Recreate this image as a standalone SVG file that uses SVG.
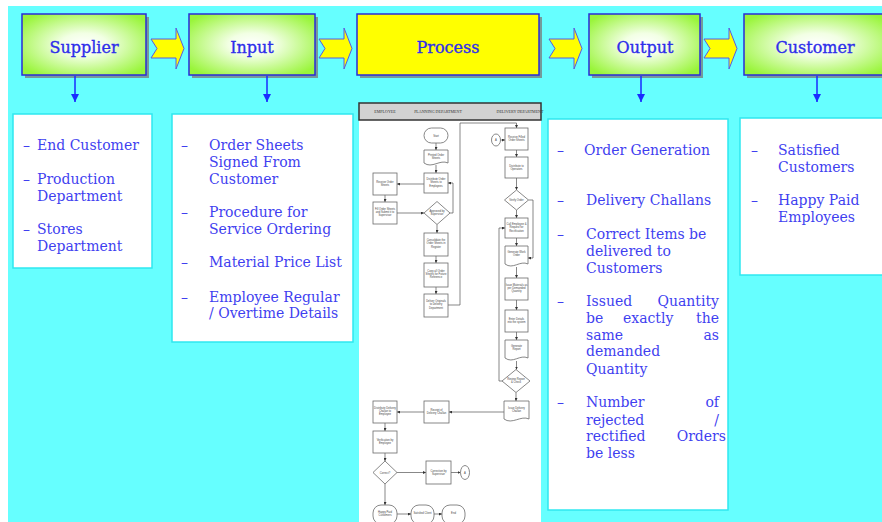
<svg xmlns="http://www.w3.org/2000/svg" width="882" height="522" viewBox="0 0 882 522">
<defs>
<radialGradient id="gg" cx="50%" cy="50%" r="62%">
<stop offset="0" stop-color="#FFFFFF"/>
<stop offset="0.3" stop-color="#F2FFE4"/>
<stop offset="1" stop-color="#99F53A"/>
</radialGradient>
<path id="chev" d="M0,39 H25 V28 L33,48.5 L25,69 V58 H0 L6,48.5 Z"/>
<marker id="dn" viewBox="0 0 10 10" refX="10" refY="5" markerWidth="8" markerHeight="8" markerUnits="userSpaceOnUse" orient="auto">
<path d="M0,0 L10,5 L0,10 Z" fill="#1A2BFF"/>
</marker>
<marker id="fa" viewBox="0 0 10 10" refX="10" refY="5" markerWidth="3" markerHeight="3" markerUnits="userSpaceOnUse" orient="auto">
<path d="M0,0 L10,5 L0,10 Z" fill="#333"/>
</marker>
<style>
.bx{stroke:#2B2BD9;stroke-width:1.5}
.sh{fill:#7a7a7a;opacity:0.75}
.ttl{font-family:"DejaVu Serif",serif;font-size:16px;fill:#2E2EEA;stroke:#2E2EEA;stroke-width:0.35;text-anchor:middle}
.lst{fill:#FFFFFF;stroke:#2FE8F0;stroke-width:1.5}
.li{font-family:"DejaVu Serif",serif;font-size:14px;fill:#3F3FF0}
.chv{fill:#FFFF00;stroke:#5A5AE0;stroke-width:1}
.dl{stroke:#1A2BFF;stroke-width:1.5;fill:none}
.fn{fill:#FFFFFF;stroke:#6a6a6a;stroke-width:0.8}
.fc{fill:none;stroke:#555;stroke-width:0.7}
.ft{font-family:"Liberation Sans",Arial,sans-serif;font-size:2.7px;fill:#444;text-anchor:middle}
.hd{font-family:"Liberation Serif",serif;font-size:4px;fill:#333;text-anchor:middle}
</style>
</defs>
<rect x="0" y="0" width="882" height="522" fill="#FFFFFF"/>
<rect x="8" y="6" width="874" height="516" fill="#66FFFF"/>

<!-- top row -->
<g id="supplier">
<rect class="sh" x="25" y="17" width="124" height="61"/>
<rect class="bx" x="22" y="14" width="124" height="61" fill="url(#gg)"/>
<text class="ttl" x="84" y="52.5">Supplier</text>
</g>
<g id="input">
<rect class="sh" x="192" y="17" width="126" height="61"/>
<rect class="bx" x="189" y="14" width="126" height="61" fill="url(#gg)"/>
<text class="ttl" x="252" y="52.5">Input</text>
</g>
<g id="process">
<rect class="sh" x="360" y="17" width="182" height="61"/>
<rect class="bx" x="357" y="14" width="182" height="61" fill="#FFFF00"/>
<text class="ttl" x="448" y="52.5">Process</text>
</g>
<g id="output">
<rect class="sh" x="592" y="17" width="111" height="61"/>
<rect class="bx" x="589" y="14" width="111" height="61" fill="url(#gg)"/>
<text class="ttl" x="645" y="52.5">Output</text>
</g>
<g id="customer">
<rect class="sh" x="747" y="17" width="145" height="61"/>
<rect class="bx" x="744" y="14" width="145" height="61" fill="url(#gg)"/>
<text class="ttl" x="815" y="52.5">Customer</text>
</g>

<g id="connectors">
<use href="#chev" class="chv" x="151"/>
<use href="#chev" class="chv" x="319"/>
<use href="#chev" class="chv" x="549"/>
<use href="#chev" class="chv" x="704"/>
<line class="dl" x1="75" y1="76" x2="75" y2="102" marker-end="url(#dn)"/>
<line class="dl" x1="267" y1="76" x2="267" y2="102" marker-end="url(#dn)"/>
<line class="dl" x1="641" y1="76" x2="641" y2="102" marker-end="url(#dn)"/>
<line class="dl" x1="817" y1="76" x2="817" y2="102" marker-end="url(#dn)"/>
</g>

<!-- lists -->
<g id="supplier-list">
<rect class="lst" x="13" y="114" width="139" height="154"/>
<text class="li"><tspan x="23" y="150">–</tspan><tspan x="37" y="150">End Customer</tspan></text>
<text class="li"><tspan x="23" y="184">–</tspan><tspan x="37" y="184">Production</tspan><tspan x="37" y="201">Department</tspan></text>
<text class="li"><tspan x="23" y="234">–</tspan><tspan x="37" y="234">Stores</tspan><tspan x="37" y="251">Department</tspan></text>
</g>
<g id="input-list">
<rect class="lst" x="172" y="114" width="181" height="228"/>
<text class="li"><tspan x="181" y="150">–</tspan><tspan x="209" y="150">Order Sheets</tspan><tspan x="209" y="167">Signed From</tspan><tspan x="209" y="184">Customer</tspan></text>
<text class="li"><tspan x="181" y="217">–</tspan><tspan x="209" y="217">Procedure for</tspan><tspan x="209" y="234">Service Ordering</tspan></text>
<text class="li"><tspan x="181" y="267">–</tspan><tspan x="209" y="267">Material Price List</tspan></text>
<text class="li"><tspan x="181" y="302">–</tspan><tspan x="209" y="302">Employee Regular</tspan><tspan x="209" y="318">/ Overtime Details</tspan></text>
</g>
<g id="output-list">
<rect class="lst" x="548" y="119" width="180" height="391"/>
<text class="li"><tspan x="557" y="155">–</tspan><tspan x="584" y="155">Order  Generation</tspan></text>
<text class="li"><tspan x="557" y="205">–</tspan><tspan x="586" y="205">Delivery Challans</tspan></text>
<text class="li"><tspan x="557" y="239">–</tspan><tspan x="586" y="239">Correct Items be</tspan><tspan x="586" y="256">delivered to</tspan><tspan x="586" y="273">Customers</tspan></text>
<text class="li"><tspan x="557" y="306">–</tspan><tspan x="586" y="306">Issued</tspan><tspan x="586" y="323">be</tspan><tspan x="586" y="340">same</tspan><tspan x="586" y="356">demanded</tspan><tspan x="586" y="374">Quantity</tspan></text>
<text class="li" text-anchor="end"><tspan x="719" y="306">Quantity</tspan><tspan x="719" y="323">the</tspan><tspan x="719" y="340">as</tspan></text>
<text class="li"><tspan x="623" y="323">exactly</tspan></text>
<text class="li"><tspan x="557" y="407">–</tspan><tspan x="586" y="407">Number</tspan><tspan x="586" y="425">rejected</tspan><tspan x="586" y="441">rectified</tspan><tspan x="586" y="458">be less</tspan></text>
<text class="li" text-anchor="end"><tspan x="719" y="407">of</tspan><tspan x="719" y="425">/</tspan><tspan x="726" y="441">Orders</tspan></text>
</g>
<g id="customer-list">
<rect class="lst" x="740" y="118" width="150" height="157"/>
<text class="li"><tspan x="751" y="155">–</tspan><tspan x="778" y="155">Satisfied</tspan><tspan x="778" y="172">Customers</tspan></text>
<text class="li"><tspan x="751" y="205">–</tspan><tspan x="778" y="205">Happy Paid</tspan><tspan x="778" y="222">Employees</tspan></text>
</g>

<!-- process flowchart -->
<g id="flowchart">
<rect x="359" y="103" width="182" height="419" fill="#FFFFFF"/>
<g id="fc-header">
<rect x="359" y="103" width="182" height="17" fill="#D2D2D2" stroke="#333" stroke-width="1.5"/>
<text class="hd" x="385" y="113">EMPLOYEE</text>
<text class="hd" x="438" y="113">PLANNING DEPARTMENT</text>
<text class="hd" x="520" y="113">DELIVERY DEPARTMENT</text>
</g>
<g id="fc-connectors">
<path class="fc" d="M436,143 V150" marker-end="url(#fa)"/>
<path class="fc" d="M436,165 V173" marker-end="url(#fa)"/>
<path class="fc" d="M424,184 H397" marker-end="url(#fa)"/>
<path class="fc" d="M385,195 V202" marker-end="url(#fa)"/>
<path class="fc" d="M397,213 H424" marker-end="url(#fa)"/>
<path class="fc" d="M450,213 H453 V183 H448" marker-end="url(#fa)"/>
<path class="fc" d="M437,224.5 V233" marker-end="url(#fa)"/>
<path class="fc" d="M436,256 V263" marker-end="url(#fa)"/>
<path class="fc" d="M436,287 V294" marker-end="url(#fa)"/>
<path class="fc" d="M448,305 H460 V123 H516.5 V128" marker-end="url(#fa)"/>
<path class="fc" d="M500.5,140 H505" marker-end="url(#fa)"/>
<path class="fc" d="M516.5,150 V157" marker-end="url(#fa)"/>
<path class="fc" d="M516.5,178 V190" marker-end="url(#fa)"/>
<path class="fc" d="M516.5,210 V218" marker-end="url(#fa)"/>
<path class="fc" d="M528.5,200 H533 V258 H528" marker-end="url(#fa)"/>
<path class="fc" d="M516.5,238 V246" marker-end="url(#fa)"/>
<path class="fc" d="M516.5,267 V278" marker-end="url(#fa)"/>
<path class="fc" d="M516.5,300 V310" marker-end="url(#fa)"/>
<path class="fc" d="M516.5,332 V340" marker-end="url(#fa)"/>
<path class="fc" d="M516.5,361 V369.5" marker-end="url(#fa)"/>
<path class="fc" d="M502,381 H499 V228 H505" marker-end="url(#fa)"/>
<path class="fc" d="M516,392.5 V401" marker-end="url(#fa)"/>
<path class="fc" d="M504,412 H449" marker-end="url(#fa)"/>
<path class="fc" d="M424,412 H397" marker-end="url(#fa)"/>
<path class="fc" d="M385,423 V431" marker-end="url(#fa)"/>
<path class="fc" d="M385,453 V461" marker-end="url(#fa)"/>
<path class="fc" d="M397,472.5 H426" marker-end="url(#fa)"/>
<path class="fc" d="M451,472.5 H460.5" marker-end="url(#fa)"/>
<path class="fc" d="M385,484 V505" marker-end="url(#fa)"/>
<path class="fc" d="M397,514 H411" marker-end="url(#fa)"/>
<path class="fc" d="M434,514 H442" marker-end="url(#fa)"/>
</g>
<g id="fc-start"><rect class="fn" x="424" y="128" width="24" height="15" rx="7.5"/><text class="ft" x="436" y="136.5">Start</text></g>
<g id="fc-printed"><path class="fn" d="M424,150 H448 V163 C440,159 432,169 424,163 Z"/><text class="ft" x="436" y="155.5">Printed Order<tspan x="436" dy="3.4">Sheets</tspan></text></g>
<g id="fc-distribute"><rect class="fn" x="424" y="173" width="24" height="20"/><text class="ft" x="436" y="180">Distribute Order<tspan x="436" dy="3.4">Sheets to</tspan><tspan x="436" dy="3.4">Employees</tspan></text></g>
<g id="fc-receive"><rect class="fn" x="373" y="173" width="24" height="22"/><text class="ft" x="385" y="182.5">Receive Order<tspan x="385" dy="3.4">Sheets</tspan></text></g>
<g id="fc-fill"><rect class="fn" x="373" y="202" width="24" height="22"/><text class="ft" x="385" y="209.5">Fill Order Sheets<tspan x="385" dy="3.4">and Submit it to</tspan><tspan x="385" dy="3.4">Supervisor</tspan></text></g>
<g id="fc-approved"><path class="fn" d="M437,201.5 L450,213 L437,224.5 L424,213 Z"/><text class="ft" x="437" y="212">Approved by<tspan x="437" dy="3.4">Supervisor</tspan></text></g>
<g id="fc-consolidate"><rect class="fn" x="424" y="233" width="24" height="23"/><text class="ft" x="436" y="241">Consolidate the<tspan x="436" dy="3.4">Order Sheets in</tspan><tspan x="436" dy="3.4">Register</tspan></text></g>
<g id="fc-copy"><rect class="fn" x="424" y="263" width="24" height="24"/><text class="ft" x="436" y="271.5">Copy all Order<tspan x="436" dy="3.4">Sheets for Future</tspan><tspan x="436" dy="3.4">Reference</tspan></text></g>
<g id="fc-deliver"><rect class="fn" x="424" y="294" width="24" height="23"/><text class="ft" x="436" y="302">Deliver Originals<tspan x="436" dy="3.4">to Delivery</tspan><tspan x="436" dy="3.4">Department</tspan></text></g>
<g id="fc-a1"><ellipse class="fn" cx="496" cy="140" rx="4.5" ry="6"/><text class="ft" x="496" y="141">A</text></g>
<g id="fc-receive-filled"><rect class="fn" x="505" y="128" width="23" height="22"/><text class="ft" x="516.5" y="138">Receive Filled<tspan x="516.5" dy="3.4">Order Sheets</tspan></text></g>
<g id="fc-dist-operators"><rect class="fn" x="505" y="157" width="23" height="21"/><text class="ft" x="516.5" y="166.5">Distribute to<tspan x="516.5" dy="3.4">Operators</tspan></text></g>
<g id="fc-verify"><path class="fn" d="M516.5,190 L528.5,200 L516.5,210 L504.5,200 Z"/><text class="ft" x="516.5" y="201">Verify Order</text></g>
<g id="fc-call"><rect class="fn" x="505" y="218" width="23" height="20"/><text class="ft" x="516.5" y="225">Call Employee &amp;<tspan x="516.5" dy="3.4">Request for</tspan><tspan x="516.5" dy="3.4">Rectification</tspan></text></g>
<g id="fc-work-order"><path class="fn" d="M505,246 H528 V264 C520,260 513,270 505,264 Z"/><text class="ft" x="516.5" y="253">Generate Work<tspan x="516.5" dy="3.4">Order</tspan></text></g>
<g id="fc-issue-mat"><rect class="fn" x="505" y="278" width="23" height="22"/><text class="ft" x="516.5" y="285.5">Issue Materials as<tspan x="516.5" dy="3.4">per Demanded</tspan><tspan x="516.5" dy="3.4">Quantity</tspan></text></g>
<g id="fc-enter"><rect class="fn" x="505" y="310" width="23" height="22"/><text class="ft" x="516.5" y="320">Enter Details<tspan x="516.5" dy="3.4">into the system</tspan></text></g>
<g id="fc-report"><path class="fn" d="M505,340 H528 V358 C520,354 513,364 505,358 Z"/><text class="ft" x="516.5" y="347">Generate<tspan x="516.5" dy="3.4">Report</tspan></text></g>
<g id="fc-review"><path class="fn" d="M516,369.5 L530,381 L516,392.5 L502,381 Z"/><text class="ft" x="516" y="380">Review Report<tspan x="516" dy="3.4">&amp; Check</tspan></text></g>
<g id="fc-challan"><path class="fn" d="M504,401 H529 V419 C521,415 512,425 504,419 Z"/><text class="ft" x="516.5" y="409">Issue Delivery<tspan x="516.5" dy="3.4">Challan</tspan></text></g>
<g id="fc-receipt"><rect class="fn" x="424" y="401" width="25" height="22"/><text class="ft" x="436.5" y="411">Receipt of<tspan x="436.5" dy="3.4">Delivery Challan</tspan></text></g>
<g id="fc-dist-challan"><rect class="fn" x="373" y="401" width="24" height="22"/><text class="ft" x="385" y="408.5">Distribute Delivery<tspan x="385" dy="3.4">Challan to</tspan><tspan x="385" dy="3.4">Employee</tspan></text></g>
<g id="fc-verification"><rect class="fn" x="373" y="431" width="24" height="22"/><text class="ft" x="385" y="441">Verification by<tspan x="385" dy="3.4">Employee</tspan></text></g>
<g id="fc-correct"><path class="fn" d="M385,461 L397,472.5 L385,484 L373,472.5 Z"/><text class="ft" x="385" y="473.5">Correct?</text></g>
<g id="fc-correction"><rect class="fn" x="426" y="461" width="25" height="23"/><text class="ft" x="438.5" y="471.5">Correction by<tspan x="438.5" dy="3.4">Supervisor</tspan></text></g>
<g id="fc-a2"><ellipse class="fn" cx="465" cy="472.5" rx="4.5" ry="7"/><text class="ft" x="465" y="473.5">A</text></g>
<g id="fc-happy"><rect class="fn" x="373" y="505" width="24" height="19" rx="8"/><text class="ft" x="385" y="512.5">Happy Paid<tspan x="385" dy="3.4">Customers</tspan></text></g>
<g id="fc-satisfied"><rect class="fn" x="411" y="505" width="23" height="19" rx="8"/><text class="ft" x="422.5" y="514">Satisfied Client</text></g>
<g id="fc-end"><rect class="fn" x="442" y="505" width="23" height="19" rx="8"/><text class="ft" x="453.5" y="514">End</text></g>
</g>
</svg>
